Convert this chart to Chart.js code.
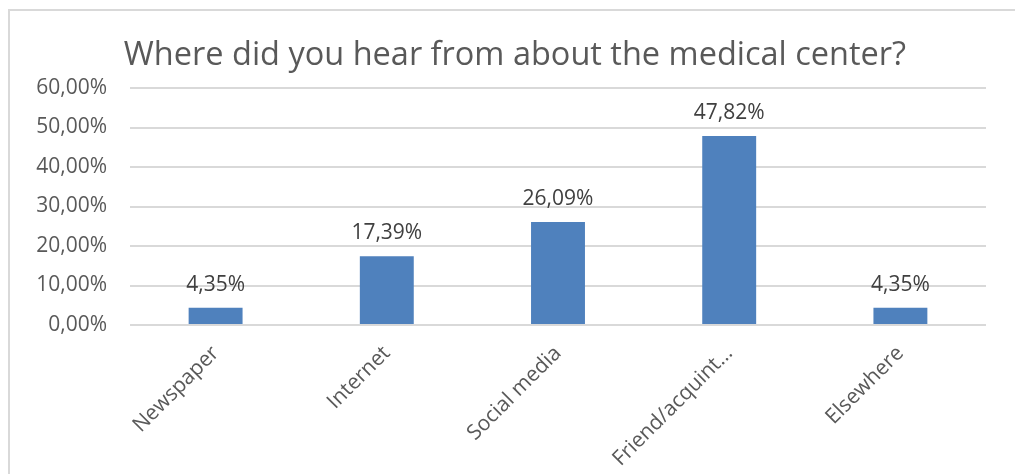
<!DOCTYPE html>
<html>
<head>
<meta charset="utf-8">
<script src="https://cdn.jsdelivr.net/npm/chart.js@4.4.0/dist/chart.umd.min.js"></script>
<style>
body{margin:0;background:#fff;}
#marco{position:absolute;left:8px;top:9px;width:1007px;height:465px;border-top:2px solid #d9d9d9;border-left:2px solid #d9d9d9;}
#caja{position:absolute;left:0;top:0;width:1015px;height:474px;}
</style>
</head>
<body>

<div id="marco"></div>
<div id="caja"><canvas id="grafica"></canvas></div>

<script>

const titulo = "Where did you hear from about the medical center?";

const categorias = ["Newspaper","Internet","Social media","Friend/acquint…","Elsewhere"];

const porcentajes = [4.35,17.39,26.09,47.82,4.35];

const ticksY = [0,10,20,30,40,50,60];

function formato(valor){
return valor.toFixed(2).replace(".",",") + "%";
}

const etiquetasBarras = {
id:"etiquetasBarras",
afterDatasetsDraw(chart){
const ctx = chart.ctx;
const meta = chart.getDatasetMeta(0);
ctx.save();
ctx.font = "21px 'Open Sans'";
ctx.fillStyle = "#404040";
ctx.textAlign = "center";
ctx.textBaseline = "alphabetic";
meta.data.forEach((barra,i)=>{
ctx.fillText(formato(porcentajes[i]), barra.x, barra.y - 17);
});
ctx.restore();
}
};

/* el titulo va centrado sobre el grafico completo, que sigue a la derecha */
const moverTitulo = {
id:"moverTitulo",
afterLayout(chart){
if(chart.titleBlock) chart.titleBlock.left = 44;
}
};

new Chart(document.getElementById("grafica"),{
type:"bar",
data:{
labels:categorias,
datasets:[{
data:porcentajes,
backgroundColor:"#4F81BD",
borderWidth:0,
categoryPercentage:1,
barPercentage:0.315
}]
},
options:{
responsive:true,
maintainAspectRatio:false,
animation:false,
layout:{padding:{left:0,right:29,top:0,bottom:0}},
plugins:{
legend:{display:false},
tooltip:{enabled:false},
title:{
display:true,
text:titulo,
color:"#595959",
font:{family:"'Open Sans'",size:32.5,weight:"normal",lineHeight:1.2},
padding:{top:36,bottom:13}
}
},
scales:{
x:{
grid:{display:false,drawTicks:false},
border:{display:false},
ticks:{
color:"#595959",
font:{family:"'Open Sans'",size:21},
minRotation:45,
maxRotation:45,
padding:16
},
afterFit(eje){ eje.height = 149; }
},
y:{
min:0,
max:60,
afterBuildTicks(eje){ eje.ticks = ticksY.map(v=>({value:v})); },
grid:{color:"#d9d9d9",lineWidth:2,drawTicks:false},
border:{display:false},
ticks:{
color:"#595959",
font:{family:"'Open Sans'",size:21},
padding:23,
callback:v=>formato(v)
},
afterFit(eje){ eje.width = 130; }
}
}
},
plugins:[etiquetasBarras,moverTitulo]
});

</script>
</body>
</html>
